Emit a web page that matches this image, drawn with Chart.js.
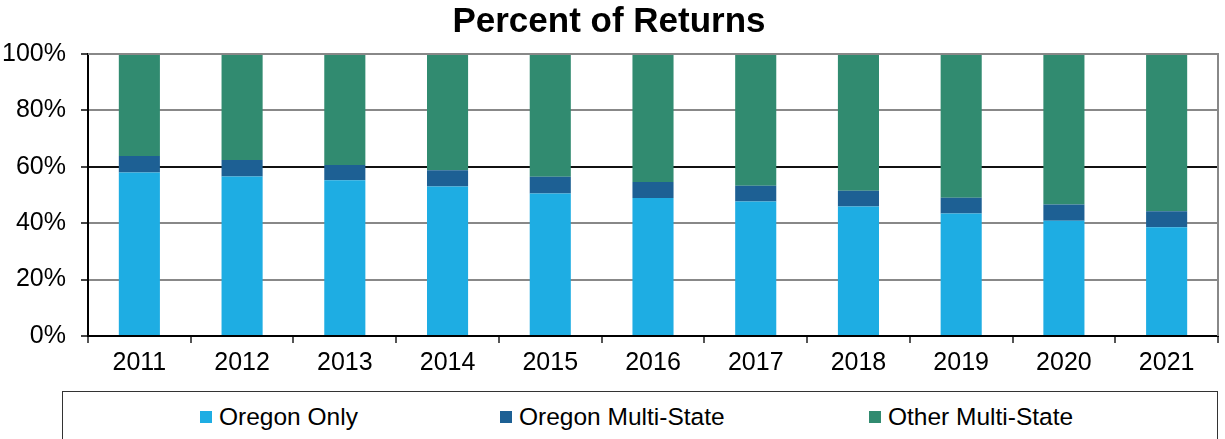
<!DOCTYPE html>
<html lang="en">
<head>
    <meta charset="UTF-8">
    <title>Percent of Returns</title>
    <style>
        body {
            margin: 0;
            width: 1225px;
            height: 439px;
            overflow: hidden;
            background: #fff;
            font-family: Arial, "Liberation Sans", sans-serif;
        }
        .wrap {
            position: relative;
            width: 1225px;
            height: 390px;
        }
        .legend {
            position: absolute;
            left: 62px;
            top: 391px;
            width: 1156px;
            height: 60px;
            border: 1px solid #333;
            box-sizing: border-box;
        }
        .legend span {
            position: absolute;
            top: 11px;
            font-size: 24.5px;
            color: #000;
            white-space: nowrap;
        }
        .legend i {
            display: inline-block;
            width: 12px;
            height: 12px;
            margin-right: 7px;
            vertical-align: 2px;
        }
    </style>
</head>
<body>
    <div class="wrap">
        <canvas id="returnsChart" width="1225" height="390"></canvas>
    </div>
    <div class="legend" id="legend"></div>
    <script src="https://cdn.jsdelivr.net/npm/chart.js"></script>
    <script>
        const years = ['2011', '2012', '2013', '2014', '2015', '2016', '2017', '2018', '2019', '2020', '2021'];
        const oregonOnly = [58.0, 56.6, 55.2, 53.0, 50.5, 48.9, 47.7, 45.9, 43.4, 40.9, 38.6];
        const oregonMulti = [5.8, 5.8, 5.4, 5.8, 6.0, 5.7, 5.6, 5.6, 5.6, 5.7, 5.6];
        const otherMulti = [36.2, 37.6, 39.4, 41.2, 43.5, 45.4, 46.7, 48.5, 51.0, 53.4, 55.8];
        const yTicks = [0, 20, 40, 60, 80, 100];

        const seriesNames = ['Oregon Only', 'Oregon Multi-State', 'Other Multi-State'];
        const seriesColors = ['#1EADE3', '#1D6094', '#318B70'];
        const legendLeft = [137, 437, 806];

        // grey frame on top and right of the plot
        const frame = {
            id: 'frame',
            afterDraw(chart) {
                const { ctx, chartArea } = chart;
                ctx.save();
                ctx.strokeStyle = '#888';
                ctx.lineWidth = 2;
                ctx.beginPath();
                ctx.moveTo(chartArea.left, chartArea.top);
                ctx.lineTo(chartArea.right, chartArea.top);
                ctx.lineTo(chartArea.right, chartArea.bottom);
                ctx.stroke();
                ctx.restore();
            }
        };

        const ctx = document.getElementById('returnsChart').getContext('2d');
        new Chart(ctx, {
            type: 'bar',
            data: {
                labels: years,
                datasets: [oregonOnly, oregonMulti, otherMulti].map((d, i) => ({
                    label: seriesNames[i],
                    data: d,
                    backgroundColor: seriesColors[i],
                    borderWidth: 0,
                    barPercentage: 0.8,
                    categoryPercentage: 0.5
                }))
            },
            options: {
                responsive: false,
                animation: false,
                layout: { padding: { left: 0, right: 7, top: 0, bottom: 0 } },
                plugins: {
                    legend: { display: false },
                    tooltip: { enabled: false },
                    title: {
                        display: true,
                        text: 'Percent of Returns',
                        color: '#000',
                        font: { family: 'Arial', size: 35, weight: 'bold' },
                        padding: { top: 1, bottom: 11 }
                    }
                },
                scales: {
                    x: {
                        stacked: true,
                        grid: {
                            offset: true,
                            drawOnChartArea: false,
                            drawTicks: true,
                            tickLength: 7,
                            color: '#555',
                            lineWidth: 2
                        },
                        border: { color: '#000', width: 2 },
                        ticks: {
                            color: '#000',
                            padding: 5,
                            font: { family: 'Arial', size: 25 }
                        },
                        afterFit(scale) { scale.height = 54; }
                    },
                    y: {
                        stacked: true,
                        min: 0,
                        max: 100,
                        afterBuildTicks(scale) {
                            scale.ticks = yTicks.map(v => ({ value: v }));
                        },
                        grid: {
                            color: ctx => ctx.tick && ctx.tick.value === 60 ? '#111' : '#888',
                            lineWidth: 2,
                            tickLength: 7,
                            tickColor: '#444'
                        },
                        border: { color: '#000', width: 2 },
                        ticks: {
                            color: '#000',
                            padding: 15,
                            font: { family: 'Arial', size: 25 },
                            callback: v => v + '%'
                        },
                        afterFit(scale) { scale.width = 88; }
                    }
                }
            },
            plugins: [frame]
        });

        const legend = document.getElementById('legend');
        seriesNames.forEach((name, i) => {
            const item = document.createElement('span');
            item.style.left = legendLeft[i] + 'px';
            item.innerHTML = `<i style="background:${seriesColors[i]}"></i>${name}`;
            legend.appendChild(item);
        });
    </script>
</body>
</html>
